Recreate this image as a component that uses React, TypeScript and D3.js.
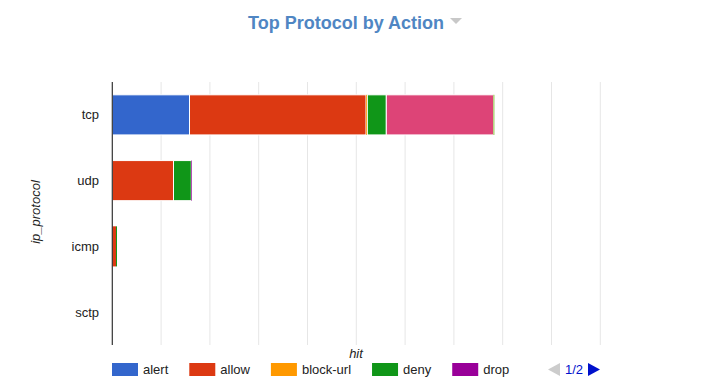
import React from "react";
import * as d3 from "d3";

const categories = ["tcp", "udp", "icmp", "sctp"];
const seriesNames = ["alert", "allow", "block-url", "deny", "drop", "reset-both", "reset-client", "reset-server"];
const seriesColors = ["#3366cc", "#dc3912", "#ff9900", "#109618", "#990099", "#0099c6", "#dd4477", "#66aa00"];
// values per series, indexed by category [tcp, udp, icmp, sctp]
const alertValues = [1582, 0, 0, 0];
const allowValues = [3617, 1254, 76, 0];
const blockUrlValues = [27, 0, 0, 0];
const denyValues = [389, 365, 20, 0];
const dropValues = [0, 14, 0, 0];
const resetBothValues = [0, 0, 0, 0];
const resetClientValues = [2197, 0, 0, 0];
const resetServerValues = [16, 0, 0, 0];
const xTicks = [0, 1000, 2000, 3000, 4000, 5000, 6000, 7000, 8000, 9000, 10000];
const legendPageItems = 5;

const allSeries = [alertValues, allowValues, blockUrlValues, denyValues, dropValues, resetBothValues, resetClientValues, resetServerValues];

const FONT = "'Liberation Sans', Arial, sans-serif";

function textWidth(s: string, font: string) {
  const c = document.createElement("canvas").getContext("2d");
  if (!c) return s.length * 7;
  c.font = font;
  return c.measureText(s).width;
}

export default function App() {
  const W = 713, H = 380;
  const left = 112.3, right = 600.3, top = 82, bottom = 345;
  const x = d3.scaleLinear().domain([0, 10000]).range([left, right]);
  const y = d3.scaleBand().domain(categories).range([top, bottom]).paddingInner(0.39).paddingOuter(0.195);

  const rows = categories.map((c, i) => {
    const obj: any = { cat: c };
    seriesNames.forEach((s, j) => (obj[s] = allSeries[j][i]));
    return obj;
  });
  const stacked = d3.stack().keys(seriesNames)(rows);

  // legend layout
  const legendFont = `13px ${FONT}`;
  let lx = 112;
  const legendItems = seriesNames.slice(0, legendPageItems).map((name, i) => {
    const item = { name, color: seriesColors[i], x: lx };
    lx += 31 + textWidth(name, legendFont) + 21;
    return item;
  });

  const ly = 363;
  return (
    <svg width={W} height={H} style={{ position: "absolute", left: 0, top: 0, fontFamily: FONT }}>
      <rect width={W} height={H} fill="#fff" />
      <text x={248} y={29} fontSize={18} fontWeight="bold" fill="#4f86c3">Top Protocol by Action</text>
      <path d="M450,18 L462,18 L456,24 Z" fill="#c8c8c8" />

      {xTicks.slice(1).map((t) => (
        <line key={t} x1={x(t)} x2={x(t)} y1={top} y2={bottom} stroke="#e6e6e6" strokeWidth={1} />
      ))}

      {stacked.map((layer, j) => (
        <g key={layer.key} fill={seriesColors[j]}>
          {layer.map((d: any, i: number) => {
            const x0 = x(d[0]), x1 = x(d[1]);
            const w = x1 - x0;
            if (w <= 0) return null;
            return (
              <rect key={i} x={x0} y={y(categories[i])} width={w} height={y.bandwidth()}
                stroke={w > 4 ? "#fff" : "none"} strokeWidth={1} />
            );
          })}
        </g>
      ))}

      <line x1={left} x2={left} y1={top} y2={bottom} stroke="#333" strokeWidth={1.2} />

      {categories.map((c) => (
        <text key={c} x={99} y={(y(c) as number) + y.bandwidth() / 2 + 4.5} textAnchor="end" fontSize={13} fill="#222">{c}</text>
      ))}

      <text transform={`translate(40,212) rotate(-90)`} textAnchor="middle" fontSize={13} fontStyle="italic" fill="#222">ip_protocol</text>
      <text x={356} y={358} textAnchor="middle" fontSize={13} fontStyle="italic" fill="#222">hit</text>

      {legendItems.map((it) => (
        <g key={it.name}>
          <rect x={it.x} y={ly} width={26} height={13} fill={it.color} />
          <text x={it.x + 31} y={ly + 11} fontSize={13} fill="#222">{it.name}</text>
        </g>
      ))}

      <path d={`M560,${ly} L560,${ly + 13} L548,${ly + 6.5} Z`} fill="#cccccc" />
      <text x={565} y={ly + 11} fontSize={13} fill="#0011cc">1/2</text>
      <path d={`M588,${ly} L588,${ly + 13} L600,${ly + 6.5} Z`} fill="#0011cc" />
    </svg>
  );
}
